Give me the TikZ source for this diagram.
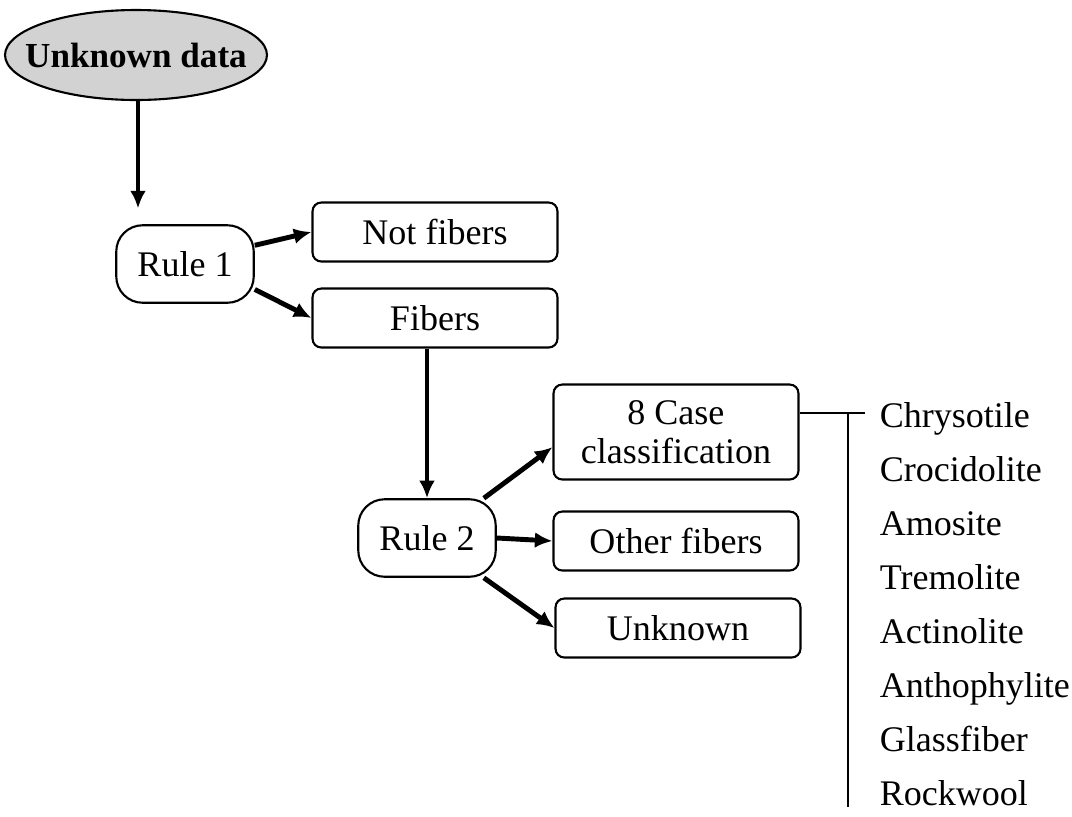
\documentclass[tikz,border=0pt]{standalone}
\usepackage{fontspec}
\setmainfont{Liberation Serif}
\usetikzlibrary{arrows.meta, positioning, shapes.geometric}

\begin{document}
\begin{tikzpicture}[x=0.02cm, y=-0.02cm,
    every node/.style={font=\fontsize{20.5}{24}\selectfont},
    rulebox/.style={draw, line width=1.2pt, rounded corners=15pt, minimum width=2.75cm, minimum height=1.55cm},
    classbox/.style={draw, line width=1.2pt, rounded corners=5pt, minimum width=4.9cm, minimum height=1.18cm, align=center},
    arr/.style={-{Latex[length=10pt,width=9pt]}, line width=2.8pt},
    item/.style={anchor=base west, inner sep=2pt}]

\useasboundingbox (0,0) rectangle (1072,816);

% --- Start ---
\coordinate (datac) at (136,55);
\draw[line width=1.2pt, fill=gray!35] (datac) ellipse [x radius=2.62cm, y radius=0.9cm];
\node[font=\fontsize{20}{24}\selectfont\bfseries, inner sep=0pt] (data) at (datac) {Unknown data};

% --- Rule 1 ---
\node[rulebox] (rule1) at (185,264) {Rule 1};
\node[classbox] (notfib) at (435,232) {Not fibers};
\node[classbox] (fibers) at (435,318) {Fibers};

\coordinate (databot) at (138,100);
\draw[arr, shorten >=9pt] (databot) -- (databot |- rule1.north);
\draw[arr] (rule1.15) -- (notfib.west);
\draw[arr] (rule1.-20) -- (fibers.west);

% --- Rule 2 ---
\node[rulebox] (rule2) at (427,538) {Rule 2};
\node[classbox, minimum height=1.9cm] (case8) at (676,432) {8 Case\\[-2pt]classification};
\node[classbox] (other) at (676,541) {Other fibers};
\node[classbox] (unknown) at (678,628) {Unknown};

\draw[arr] (fibers.south -| rule2.north) -- (rule2.north);
\draw[arr] (rule2.35) -- (case8.187);
\draw[arr] (rule2.east) -- (other.west);
\draw[arr] (rule2.-35) -- (unknown.west);

% --- fiber types ---
\node[item] (chry) at (876,427) {Chrysotile};
\node[item] (croc) at (876,481) {Crocidolite};
\node[item] (amos) at (876,535) {Amosite};
\node[item] (trem) at (876,589) {Tremolite};
\node[item] (acti) at (876,643) {Actinolite};
\node[item] (anth) at (876,697) {Anthophylite};
\node[item] (glas) at (876,751) {Glassfiber};
\node[item] (rock) at (876,805) {Rockwool};

\coordinate (bartop) at (848,413);
\coordinate (barbot) at (848,807);
\draw[line width=1.2pt] (case8.east |- bartop) -- ([xshift=-6pt]chry.west |- bartop);
\draw[line width=1.4pt] (bartop) -- (barbot);

\end{tikzpicture}
\end{document}
